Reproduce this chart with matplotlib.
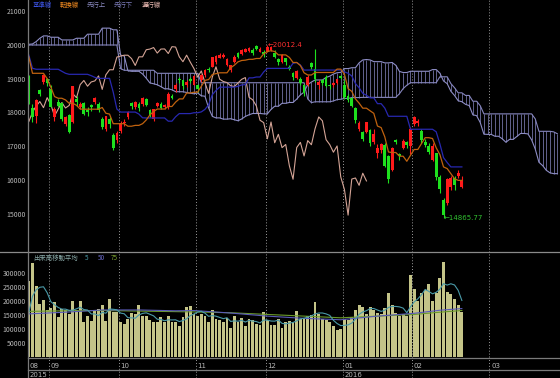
import numpy as np
import pandas as pd
import matplotlib
matplotlib.use("Agg")
import matplotlib.pyplot as plt
from matplotlib.lines import Line2D

plt.rcParams['font.family'] = ['Liberation Sans Narrow', 'Noto Sans CJK JP', 'DejaVu Sans']

# ---------------- data ----------------
opens = [19050, 18120, 17880, 18650, 18890, 18980, 18700, 17850, 18320, 18280,
         17650, 17920, 17720, 18400, 18150, 18290, 18080, 18200, 18300, 18250,
         17800, 17500, 17800, 17330, 17180, 17450, 17680, 17850, 18270, 18150,
         18250, 18250, 18400, 18080, 17800, 18200, 18250, 18150, 18150, 18500,
         18690, 18990, 18950, 18800, 19000, 18810, 18810, 18950, 19100, 19290,
         19360, 19500, 19620, 19650, 19400, 19250, 19500, 19770, 19730, 19800,
         19830, 19850, 19970, 19800, 19800, 19800, 19850, 19770, 19580, 19500,
         19600, 19360, 19160, 19010, 19000, 18800, 18810, 19460, 19280, 18810,
         18950, 19060, 18800, 18800, 18880, 19060, 18818, 18480, 18420, 18120,
         17500, 17430, 17430, 17480, 17130, 16800, 16870, 17030, 16700, 16290,
         17180, 16765, 16935, 17130, 17000, 17655, 17700, 17460, 17130, 17000,
         16600, 16790, 16090, 15400, 15300, 15780, 16050, 16100, 15800]
highs = [19120, 18250, 18400, 18700, 19140, 19020, 18800, 18150, 18400, 18300,
         17900, 17950, 18790, 18500, 18300, 18310, 18150, 18250, 18450, 18300,
         17850, 17900, 17850, 17400, 17460, 17750, 17800, 18050, 18300, 18350,
         18300, 18450, 18420, 18100, 18100, 18300, 18300, 18250, 18600, 18550,
         18860, 19050, 18960, 18950, 19050, 19100, 18850, 19150, 19300, 19350,
         19650, 19700, 19750, 19750, 19600, 19400, 19700, 19800, 19880, 19900,
         19950, 19900, 20000, 19950, 19850, 20012.4, 19980, 19850, 19620, 19720,
         19620, 19400, 19200, 19250, 19050, 18850, 19100, 19500, 19869, 18960,
         19000, 19100, 18850, 18900, 19000, 19100, 18951, 18540, 18450, 18160,
         17750, 17450, 17720, 17500, 17500, 17050, 17100, 17100, 16750, 16980,
         17200, 16800, 17200, 17150, 17556, 17900, 17800, 17500, 17200, 17100,
         17100, 16800, 16150, 15450, 16050, 16100, 16100, 16300, 16100]
lows = [18250, 17730, 17700, 18480, 18850, 18780, 18150, 17740, 18150, 17750,
        17600, 17400, 17700, 18200, 18100, 17930, 17900, 18050, 18250, 18000,
        17500, 17450, 17550, 16880, 17100, 17400, 17600, 17800, 18100, 18100,
        18050, 18200, 18200, 17850, 17750, 18150, 18100, 18100, 18100, 18400,
        18600, 18870, 18700, 18750, 18880, 18800, 18600, 18900, 19050, 19200,
        19350, 19450, 19600, 19620, 19380, 19200, 19480, 19600, 19700, 19780,
        19800, 19700, 19850, 19780, 19650, 19780, 19830, 19600, 19400, 19480,
        19400, 19250, 18950, 18980, 18800, 18500, 18780, 19280, 18900, 18700,
        18800, 18750, 18700, 18750, 18850, 18980, 18394, 18310, 18150, 17700,
        17450, 17150, 17400, 16994, 17050, 16650, 16800, 16387, 15900, 16250,
        17050, 16600, 16900, 16950, 16767, 17600, 17600, 17100, 16980, 16780,
        16550, 16000, 15600, 14865.77, 15250, 15700, 15700, 16050, 15750]
closes = [18500, 17860, 18370, 18560, 19100, 18880, 18165, 18100, 18180, 17790,
          17860, 17430, 18770, 18300, 18260, 17965, 18026, 18170, 18430, 18070,
          17571, 17880, 17645, 16930, 17388, 17700, 17725, 18005, 18186, 18322,
          18141, 18438, 18234, 17891, 18096, 18291, 18131, 18207, 18554, 18435,
          18825, 18947, 18777, 18903, 18935, 19083, 18683, 19116, 19265, 19265,
          19642, 19671, 19697, 19697, 19596, 19393, 19649, 19649, 19859, 19879,
          19924, 19760, 19880, 19883, 19747, 19950, 19939, 19650, 19504, 19698,
          19492, 19301, 19046, 19230, 18883, 18565, 19049, 19353, 18986, 18916,
          18886, 18789, 18769, 18873, 18982, 19033, 18450, 18374, 18191, 17767,
          17697, 17218, 17715, 17100, 17350, 16955, 17048, 16416, 16017, 16958,
          17110, 16708, 17163, 17041, 17518, 17865, 17750, 17191, 17044, 16819,
          17004, 16085, 15713, 14952, 16022, 16054, 15836, 16196, 15967]
volumes = [273000, 335000, 252000, 191000, 203000, 167000, 176000, 197000, 142000, 173000,
           167000, 154000, 200000, 167000, 200000, 126000, 146000, 130000, 167000, 170000,
           185000, 130000, 206000, 161000, 161000, 126000, 118000, 136000, 158000, 154000,
           185000, 146000, 146000, 132000, 126000, 124000, 142000, 124000, 148000, 124000,
           126000, 111000, 142000, 179000, 181000, 154000, 148000, 154000, 146000, 124000,
           169000, 136000, 132000, 124000, 140000, 103000, 146000, 126000, 140000, 109000,
           134000, 132000, 118000, 115000, 161000, 132000, 116000, 116000, 134000, 102000,
           124000, 130000, 126000, 164000, 136000, 136000, 148000, 151000, 197000, 154000,
           136000, 132000, 124000, 109000, 97000, 99000, 136000, 132000, 142000, 167000,
           185000, 179000, 154000, 179000, 169000, 158000, 154000, 176000, 228000, 187000,
           158000, 146000, 154000, 146000, 293000, 244000, 201000, 228000, 240000, 259000,
           200000, 228000, 283000, 341000, 232000, 224000, 206000, 187000, 161000]

# indicator values before enough history is on the chart
tenkan_head = [19650, 19160, 19160, 19160, 19160, 19000, 18750, 18470]
kijun_head = [19700, 19310, 19280, 19280, 19280, 19280, 19280, 19280, 19280, 19220,
              19160, 19130, 19130, 19130, 19130, 19130, 19130, 19090, 19040, 19010,
              19010, 19010, 19010, 18600, 18100]
senkou_a_head = [20020, 20030, 20100, 20200, 20270, 20270, 20230, 20230, 20230, 20150,
                 20150, 20150, 20150, 20200, 20200, 20200, 20320, 20320, 20320, 20320,
                 20500, 20500, 20500, 20450, 20450, 19700]
senkou_b_head = [20000] * 25 + [19300] + [19250] * 9 + [19160] * 12 + [18880] * 29 + [18400]
vol_ma5_head = [158000, 217000, 240000, 249000]
vol_ma_idx = [0, 10, 20, 30, 40, 45, 55, 65, 75, 85, 95, 105, 112, 118]
vol_ma50 = [154000, 160000, 168000, 168000, 165000, 166000, 157000, 146000, 138000,
            133000, 146000, 156000, 167000, 173000]
vol_ma75 = [163000, 165000, 166000, 164000, 162000, 161000, 158000, 152000, 146000,
            140000, 146000, 152000, 160000, 166000]

month_first = [6, 25, 46, 65, 86, 105, 126]
month_labels = ["09", "10", "11", "12", "01", "02", "03"]
year_first = [0, 86]
year_labels = ["2015", "2016"]
price_ticks = [15000, 16000, 17000, 18000, 19000, 20000, 21000]
vol_ticks = [50000, 100000, 150000, 200000, 250000, 300000]
legend_labels = ["基準線", "転換線", "先行上", "先行下", "遅行線"]
vol_legend_labels = ["出来高移動平均", "5", "50", "75"]

# ---------------- style ----------------
BG = "black"
UP, DOWN = "#ff1a1a", "#1ee01e"
KIJUN, TENKAN, CHIKOU = "#2828b0", "#c0620e", "#d4a496"
CLOUD_V, CLOUD_A, CLOUD_B = "#7c7cb4", "#8e8ec6", "#8686be"
VOLC = "#c4c488"
MA5C, MA50C, MA75C = "#4a9aa8", "#5a5ab8", "#6a9a2a"
GRID, SEP, TXT = "#9a9a9a", "#7a7a7a", "#b8b8b8"
legend_colors = ["#3a52e0", "#f08a20", "#8a8ac0", "#7a7ab8", "#e8b8b0"]
legend_x = [33, 60, 87, 114, 142]
vol_legend_colors = ["#8aaaa8", "#4a9aa8", "#6a6ac8", "#7aa030"]
vol_legend_x = [33, 85, 98, 111]
CJK = ['Noto Sans CJK JP', 'DejaVu Sans']
NUM = ['Liberation Sans Narrow', 'DejaVu Sans']

W, HH = 560, 378
fig = plt.figure(figsize=(W / 100, HH / 100), dpi=100, facecolor=BG)


def px_axes(x0, y0, x1, y1):
    ax = fig.add_axes([x0 / W, 1 - y1 / HH, (x1 - x0) / W, (y1 - y0) / HH])
    ax.set_facecolor(BG)
    for s in ax.spines.values():
        s.set_visible(False)
    return ax


XLIM = (-0.22, 144.74)
axp = px_axes(28, 0, 560, 252)
axv = px_axes(28, 252, 560, 357)
axd = px_axes(28, 357, 560, 378)
for ax in (axp, axv, axd):
    ax.set_xlim(*XLIM)
    ax.set_xticks([])

# ---------------- indicators ----------------
o = np.asarray(opens, float)
h = np.asarray(highs, float)
l = np.asarray(lows, float)
c = np.asarray(closes, float)
n = len(c)
idx = np.arange(n)
Hs, Ls = pd.Series(h), pd.Series(l)
tenkan = ((Hs.rolling(9).max() + Ls.rolling(9).min()) / 2).to_numpy()
tenkan[:len(tenkan_head)] = tenkan_head
kijun = ((Hs.rolling(26).max() + Ls.rolling(26).min()) / 2).to_numpy()
kijun[:len(kijun_head)] = kijun_head
span_a = np.concatenate([senkou_a_head, (tenkan + kijun) / 2])
span_b_calc = ((Hs.rolling(52).max() + Ls.rolling(52).min()) / 2).to_numpy()
span_b = np.concatenate([senkou_b_head, span_b_calc[len(senkou_b_head) - 26:]])
pidx = np.arange(len(span_a))

# ---------------- price panel ----------------
axp.set_ylim(13858, 21335)
axp.vlines(pidx, np.minimum(span_a, span_b), np.maximum(span_a, span_b),
           colors=CLOUD_V, lw=0.55, zorder=1)
axp.plot(pidx, span_a, color=CLOUD_A, lw=0.8, zorder=1)
axp.plot(pidx, span_b, color=CLOUD_B, lw=0.8, zorder=1)

axp.plot(idx - 26, c, color=CHIKOU, lw=0.8, zorder=2)

up = c >= o
cols = np.where(up, UP, DOWN)
axp.vlines(idx, l, h, colors=cols, lw=0.8, zorder=4)
body = np.maximum(np.abs(c - o), 35)
axp.bar(idx, body, bottom=np.minimum(o, c), width=0.75, color=cols, linewidth=0, zorder=5)

axp.plot(idx, kijun, color=KIJUN, lw=0.9, zorder=6)
axp.plot(idx, tenkan, color=TENKAN, lw=0.9, zorder=7)

ih = int(np.argmax(h))
il = int(np.argmin(l))
axp.text(ih, h[ih], f"\u2190{h[ih]}", color="#ff3030", fontsize=5, va="center",
         ha="left", family=NUM, zorder=8)
axp.text(il, l[il], f"\u2190{l[il]}", color="#30c030", fontsize=5, va="center",
         ha="left", family=NUM, zorder=8)

axp.set_yticks(price_ticks)
axp.set_yticklabels([str(t) for t in price_ticks])
axp.tick_params(axis="y", length=0, pad=1.5, labelsize=5, labelcolor=TXT)

# ---------------- volume panel ----------------
axv.set_ylim(0, 375000)
axv.bar(idx, volumes, width=0.78, color=VOLC, linewidth=0, zorder=2)
vs = pd.Series(volumes, dtype=float)
ma5 = vs.rolling(5).mean().to_numpy()
ma5[:len(vol_ma5_head)] = vol_ma5_head
axv.plot(vol_ma_idx, vol_ma75, color=MA75C, lw=0.8, zorder=3)
axv.plot(vol_ma_idx, vol_ma50, color=MA50C, lw=0.8, zorder=3)
axv.plot(idx, ma5, color=MA5C, lw=0.8, zorder=4)
axv.set_yticks(vol_ticks)
axv.set_yticklabels([str(t) for t in vol_ticks])
axv.tick_params(axis="y", length=0, pad=1.5, labelsize=5, labelcolor=TXT)

# ---------------- date strip ----------------
axd.set_ylim(0, 1)
axd.set_yticks([])
axd.annotate("08", xy=(XLIM[0], 0.57), xycoords=("data", "axes fraction"),
             xytext=(1.2, 0), textcoords="offset points", color=TXT,
             fontsize=5, va="center", ha="left", family=NUM)
for m, lab in zip(month_first, month_labels):
    axd.annotate(lab, xy=(m - 0.5, 0.57), xycoords=("data", "axes fraction"),
                 xytext=(1.2, 0), textcoords="offset points", color=TXT,
                 fontsize=5, va="center", ha="left", family=NUM)
for yi, lab in zip(year_first, year_labels):
    pos = XLIM[0] if yi == 0 else yi - 0.5
    axd.annotate(lab, xy=(pos, 0.16), xycoords=("data", "axes fraction"),
                 xytext=(1.2, 0), textcoords="offset points", color=TXT,
                 fontsize=5, va="center", ha="left", family=NUM)

# month grid lines through all panels
for ax in (axp, axv, axd):
    for m in month_first:
        ax.axvline(m - 0.5, color=GRID, lw=0.7, ls=(0, (1, 2)), zorder=0.5)

# separators and frame lines
fig.add_artist(Line2D([0, 1], [1 - 252 / HH] * 2, color="#8a8a8a", lw=0.9))
fig.add_artist(Line2D([28 / W, 1], [1 - 357.5 / HH] * 2, color=SEP, lw=0.9))
fig.add_artist(Line2D([28 / W, 1], [1 - 369.5 / HH] * 2, color=SEP, lw=0.9))
fig.add_artist(Line2D([28 / W] * 2, [0, 1], color=SEP, lw=0.9))

# legends
for lab, col, x in zip(legend_labels, legend_colors, legend_x):
    fig.text(x / W, 1 - 5 / HH, lab, color=col, fontsize=4.6, va="center",
             ha="left", family=CJK)
for lab, col, x in zip(vol_legend_labels, vol_legend_colors, vol_legend_x):
    fig.text(x / W, 1 - 257.5 / HH, lab, color=col, fontsize=4.6, va="center",
             ha="left", family=CJK)

fig.savefig("out.png", dpi=100, facecolor=BG)
